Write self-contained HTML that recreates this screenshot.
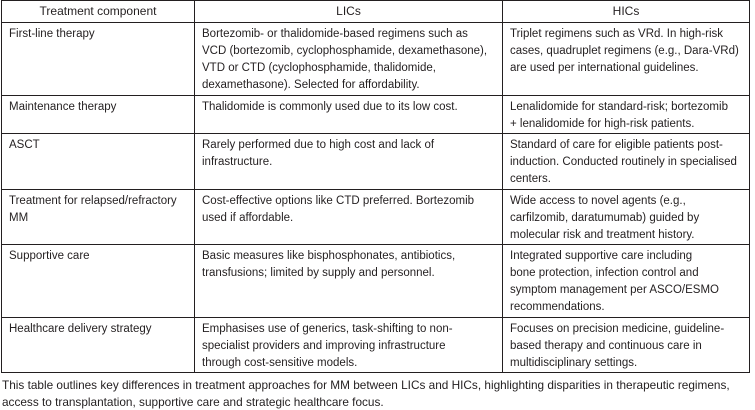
<!DOCTYPE html>
<html><head><style>
body{margin:0;width:755px;height:408px;background:#fff;position:relative;font-family:"Liberation Sans",sans-serif;font-size:11.5px;color:#231f20;overflow:hidden}
.c{position:absolute;border:1px solid #231f20;box-sizing:border-box;padding:3px 0 0 7px;line-height:17px;white-space:nowrap;overflow:hidden}
.h{text-align:center;padding:2px 0 0 0;font-size:12px}
.cap{position:absolute;left:2px;line-height:16.5px;top:377px;white-space:nowrap;font-size:11.8px}
</style></head><body>
<div class="c h" style="left:1px;top:0;width:194px;height:23px">Treatment component</div>
<div class="c h" style="left:194px;top:0;width:309px;height:23px">LICs</div>
<div class="c h" style="left:502px;top:0;width:248px;height:23px">HICs</div>

<div class="c" style="left:1px;top:22px;width:194px;height:74px">First-line therapy</div>
<div class="c" style="left:194px;top:22px;width:309px;height:74px">Bortezomib- or thalidomide-based regimens such as<br>VCD (bortezomib, cyclophosphamide, dexamethasone),<br>VTD or CTD (cyclophosphamide, thalidomide,<br>dexamethasone). Selected for affordability.</div>
<div class="c" style="left:502px;top:22px;width:248px;height:74px">Triplet regimens such as VRd. In high-risk<br>cases, quadruplet regimens (e.g., Dara-VRd)<br>are used per international guidelines.</div>

<div class="c" style="left:1px;top:95px;width:194px;height:39px">Maintenance therapy</div>
<div class="c" style="left:194px;top:95px;width:309px;height:39px">Thalidomide is commonly used due to its low cost.</div>
<div class="c" style="left:502px;top:95px;width:248px;height:39px">Lenalidomide for standard-risk; bortezomib<br>+ lenalidomide for high-risk patients.</div>

<div class="c" style="left:1px;top:133px;width:194px;height:57px">ASCT</div>
<div class="c" style="left:194px;top:133px;width:309px;height:57px">Rarely performed due to high cost and lack of<br>infrastructure.</div>
<div class="c" style="left:502px;top:133px;width:248px;height:57px">Standard of care for eligible patients post-<br>induction. Conducted routinely in specialised<br>centers.</div>

<div class="c" style="left:1px;top:189px;width:194px;height:56px">Treatment for relapsed/refractory<br>MM</div>
<div class="c" style="left:194px;top:189px;width:309px;height:56px">Cost-effective options like CTD preferred. Bortezomib<br>used if affordable.</div>
<div class="c" style="left:502px;top:189px;width:248px;height:56px">Wide access to novel agents (e.g.,<br>carfilzomib, daratumumab) guided by<br>molecular risk and treatment history.</div>

<div class="c" style="left:1px;top:244px;width:194px;height:74px">Supportive care</div>
<div class="c" style="left:194px;top:244px;width:309px;height:74px">Basic measures like bisphosphonates, antibiotics,<br>transfusions; limited by supply and personnel.</div>
<div class="c" style="left:502px;top:244px;width:248px;height:74px">Integrated supportive care including<br>bone protection, infection control and<br>symptom management per ASCO/ESMO<br>recommendations.</div>

<div class="c" style="left:1px;top:317px;width:194px;height:56px">Healthcare delivery strategy</div>
<div class="c" style="left:194px;top:317px;width:309px;height:56px">Emphasises use of generics, task-shifting to non-<br>specialist providers and improving infrastructure<br>through cost-sensitive models.</div>
<div class="c" style="left:502px;top:317px;width:248px;height:56px">Focuses on precision medicine, guideline-<br>based therapy and continuous care in<br>multidisciplinary settings.</div>

<div class="cap">This table outlines key differences in treatment approaches for MM between LICs and HICs, highlighting disparities in therapeutic regimens,<br>access to transplantation, supportive care and strategic healthcare focus.</div>
</body></html>
